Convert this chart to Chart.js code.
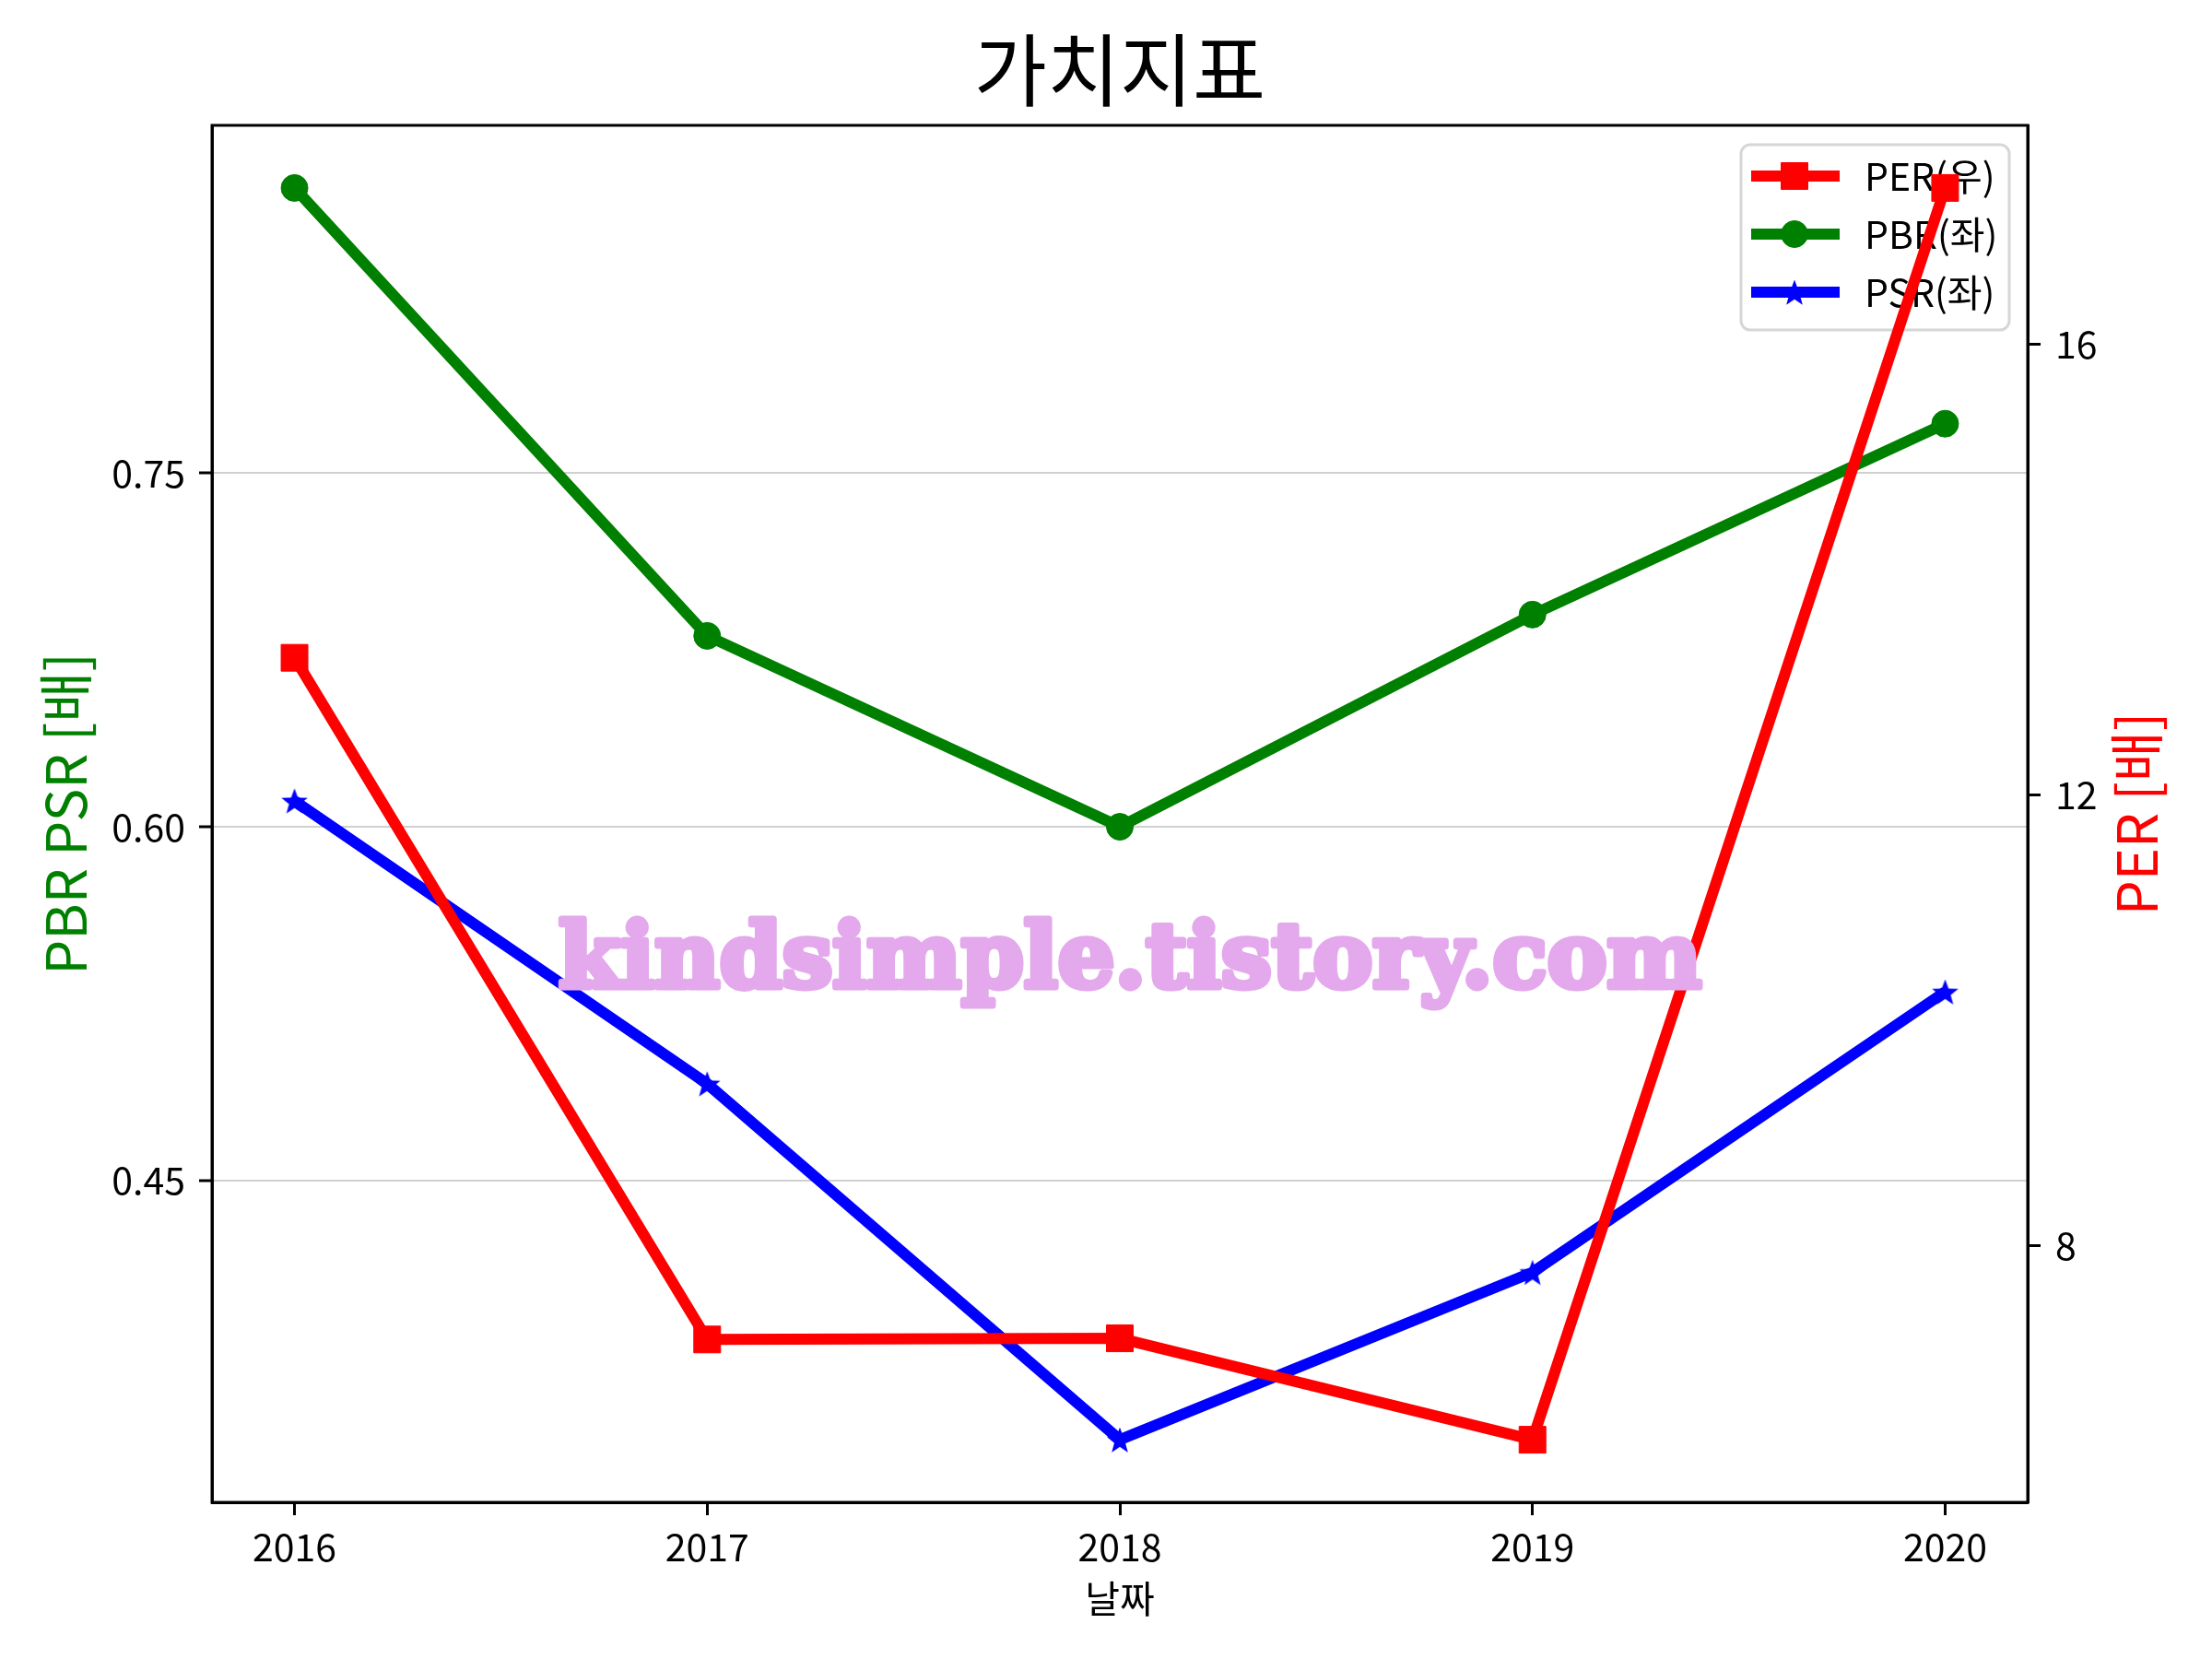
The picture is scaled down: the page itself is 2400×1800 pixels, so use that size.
<!DOCTYPE html>
<html>
<head>
<meta charset="utf-8">
<script src="https://cdn.jsdelivr.net/npm/chart.js@4.4.1/dist/chart.umd.min.js"></script>
<style>
  html, body { margin: 0; padding: 0; background: #fff; }
</style>
</head>
<body>
<canvas id="myChart" width="2400" height="1800"></canvas>
<script>
// datos
const anios = [2016, 2017, 2018, 2019, 2020];
const valoresPER = [13.22, 7.17, 7.18, 6.28, 17.39];
const valoresPBR = [0.871, 0.681, 0.600, 0.690, 0.771];
const valoresPSR = [0.611, 0.491, 0.340, 0.411, 0.530];
const ticksIzq = [0.45, 0.60, 0.75];
const ticksDer = [8, 12, 16];

const titulo = "가치지표";
const etiquetaX = "날짜";
const etiquetaIzq = "PBR PSR [배]";
const etiquetaDer = "PER [배]";
const marcaAgua = "kindsimple.tistory.com";

const fuente = "'Noto Sans CJK KR', 'Noto Sans', sans-serif";
Chart.defaults.font.family = fuente;
Chart.defaults.color = "#000";

// margen del 5% como hace matplotlib
function margenes(valores, m) {
    const lo = Math.min(...valores);
    const hi = Math.max(...valores);
    const d = (hi - lo) * m;
    return { min: lo - d, max: hi + d };
}

function puntos(valores) {
    return valores.map((v, i) => ({ x: anios[i], y: v }));
}

// estrella rellena de 5 puntas
function hacerEstrella(tam, color) {
    const c = document.createElement("canvas");
    c.width = tam; c.height = tam;
    const g = c.getContext("2d");
    g.fillStyle = color;
    g.beginPath();
    for (let k = 0; k < 10; k++) {
        const r = k % 2 === 0 ? tam / 2 : tam / 2 * 0.42;
        const a = -Math.PI / 2 + k * Math.PI / 5;
        g.lineTo(tam / 2 + r * Math.cos(a), tam / 2 + 1.5 + r * Math.sin(a));
    }
    g.closePath();
    g.fill();
    return c;
}
const estrella = hacerEstrella(30, "blue");

const rangoX = margenes(anios, 0.05);
const rangoIzq = margenes(valoresPBR.concat(valoresPSR), 0.05);
const rangoDer = margenes(valoresPER, 0.05);

const rejillaEje = () => ({
    tickLength: 14,
    tickColor: "#000",
    tickWidth: 3
});

// leyenda dentro del area, debajo de la linea PER
const leyenda = {
    id: "leyenda",
    beforeDatasetsDraw(chart) {
        const ctx = chart.ctx;
        const area = chart.chartArea;
        const x0 = area.right - 311, y0 = area.top + 21, w = 291, h = 201;
        ctx.save();
        ctx.beginPath();
        ctx.roundRect(x0, y0, w, h, 10);
        ctx.fillStyle = "rgba(255,255,255,0.8)";
        ctx.fill();
        ctx.lineWidth = 3;
        ctx.strokeStyle = "#d6d6d6";
        ctx.stroke();
        chart.data.datasets.forEach((ds, i) => {
            const y = y0 + 34 + i * 63;
            ctx.strokeStyle = ds.borderColor;
            ctx.lineWidth = ds.borderWidth;
            ctx.beginPath();
            ctx.moveTo(x0 + 11, y);
            ctx.lineTo(x0 + 107, y);
            ctx.stroke();
            ctx.fillStyle = ds.borderColor;
            ctx.lineWidth = 1;
            Chart.helpers.drawPoint(ctx, { pointStyle: ds.pointStyle, radius: ds.pointRadius, borderWidth: 1, rotation: 0 }, x0 + 58, y);
            ctx.fillStyle = "#000";
            ctx.font = "41px " + fuente;
            ctx.textBaseline = "middle";
            ctx.textAlign = "left";
            ctx.fillText(ds.label, x0 + 134, y);
        });
        ctx.restore();
    },
    afterDatasetsDraw(chart) {
        const ctx = chart.ctx;
        const area = chart.chartArea;
        ctx.save();
        // marco
        ctx.strokeStyle = "#000";
        ctx.lineWidth = 3;
        ctx.strokeRect(area.left, area.top, area.right - area.left, area.bottom - area.top);
        // titulo
        ctx.fillStyle = "#000";
        ctx.font = "86px " + fuente;
        ctx.textAlign = "center";
        ctx.textBaseline = "middle";
        ctx.fillText(titulo, (area.left + area.right) / 2, 76);
        // titulo eje derecho (de abajo hacia arriba)
        ctx.save();
        ctx.translate(2318, (area.top + area.bottom) / 2);
        ctx.rotate(-Math.PI / 2);
        ctx.fillStyle = "red";
        ctx.font = "60px " + fuente;
        ctx.fillText(etiquetaDer, 0, 0);
        ctx.restore();
        // marca de agua
        ctx.font = "bold 100px 'DejaVu Serif', serif";
        const anchoBase = ctx.measureText(marcaAgua).width;
        const tam = 100 * 1240 / anchoBase;
        ctx.font = "bold " + tam.toFixed(1) + "px 'DejaVu Serif', serif";
        ctx.fillStyle = "#e4a8ec";
        ctx.strokeStyle = "#e4a8ec";
        ctx.lineWidth = 7;
        ctx.lineJoin = "round";
        ctx.textAlign = "left";
        ctx.textBaseline = "alphabetic";
        ctx.strokeText(marcaAgua, 606, 1071);
        ctx.fillText(marcaAgua, 606, 1071);
        ctx.restore();
    }
};

const config = {
    type: "line",
    data: {
        datasets: [
            {
                label: "PER(우)",
                data: puntos(valoresPER),
                yAxisID: "y1",
                borderColor: "red",
                backgroundColor: "red",
                borderWidth: 12,
                pointStyle: "rect",
                pointRadius: 20.5,
                pointBorderWidth: 1,
                pointBackgroundColor: "red",
                pointBorderColor: "red",
                tension: 0
            },
            {
                label: "PBR(좌)",
                data: puntos(valoresPBR),
                yAxisID: "y",
                borderColor: "green",
                backgroundColor: "green",
                borderWidth: 12,
                pointStyle: "circle",
                pointRadius: 14.5,
                pointBorderWidth: 1,
                pointBackgroundColor: "green",
                pointBorderColor: "green",
                tension: 0
            },
            {
                label: "PSR(좌)",
                data: puntos(valoresPSR),
                yAxisID: "y",
                borderColor: "blue",
                backgroundColor: "blue",
                borderWidth: 12,
                pointStyle: estrella,
                pointRadius: 15,
                pointBorderWidth: 0,
                tension: 0
            }
        ]
    },
    options: {
        responsive: false,
        animation: false,
        devicePixelRatio: 1,
        layout: { padding: { top: 136, left: 0, right: 0, bottom: 0 } },
        plugins: {
            legend: { display: false },
            title: { display: false },
            tooltip: { enabled: false }
        },
        scales: {
            x: {
                type: "linear",
                min: rangoX.min,
                max: rangoX.max,
                afterBuildTicks: (s) => { s.ticks = anios.map(v => ({ value: v })); },
                afterFit: (s) => { s.height = 170; },
                ticks: {
                    callback: (v) => String(v),
                    font: { size: 41 },
                    color: "#000",
                    padding: 10,
                    maxRotation: 0
                },
                grid: { drawOnChartArea: false, ...rejillaEje() },
                border: { display: true, color: "#000", width: 3 },
                title: {
                    display: true,
                    text: etiquetaX,
                    font: { size: 41 },
                    color: "#000",
                    padding: { top: 0, bottom: 41 }
                }
            },
            y: {
                position: "left",
                min: rangoIzq.min,
                max: rangoIzq.max,
                afterBuildTicks: (s) => { s.ticks = ticksIzq.map(v => ({ value: v })); },
                afterFit: (s) => { s.width = 230; },
                ticks: {
                    callback: (v) => Number(v).toFixed(2),
                    font: { size: 41 },
                    color: "#000",
                    padding: 15
                },
                grid: { color: "#d0d0d0", lineWidth: 2, ...rejillaEje() },
                border: { display: true, color: "#000", width: 3 },
                title: {
                    display: true,
                    text: etiquetaIzq,
                    font: { size: 60 },
                    color: "green",
                    padding: { top: 35, bottom: 0 }
                }
            },
            y1: {
                position: "right",
                min: rangoDer.min,
                max: rangoDer.max,
                afterBuildTicks: (s) => { s.ticks = ticksDer.map(v => ({ value: v })); },
                afterFit: (s) => { s.width = 200; },
                ticks: {
                    callback: (v) => String(v),
                    font: { size: 41 },
                    color: "#000",
                    padding: 16
                },
                grid: { drawOnChartArea: false, ...rejillaEje() },
                border: { display: true, color: "#000", width: 3 }
            }
        }
    },
    plugins: [leyenda]
};

const chartDOM = document.getElementById("myChart");
new Chart(chartDOM, config);
</script>
</body>
</html>
